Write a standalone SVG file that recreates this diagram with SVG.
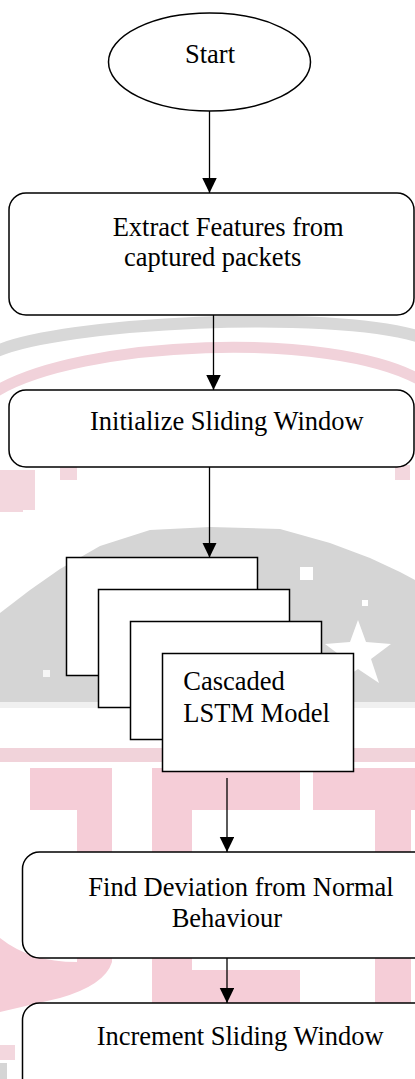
<svg xmlns="http://www.w3.org/2000/svg" width="415" height="1079" viewBox="0 0 415 1079">
<defs>
<style>
.node{fill:#fff;stroke:#000;stroke-width:1.5}
.lbl{font-family:"Liberation Serif","Times New Roman",serif;font-size:26.5px;fill:#000}
.conn{stroke:#000;stroke-width:1.3;fill:none}
.wg{fill:#d5d5d5}
.wp{fill:#f5cdd7}
</style>
<marker id="ah" markerWidth="15" markerHeight="15" refX="15" refY="7.25" orient="auto" markerUnits="userSpaceOnUse">
<path d="M0,0 L15,7.25 L0,14.5 z" fill="#000"/>
</marker>
</defs>
<rect width="415" height="1079" fill="#fff"/>
<g id="watermark">
<path d="M-5 352 C60 322 330 309 420 337" stroke="#d8d8d8" stroke-width="12" fill="none"/>
<path d="M-5 392 C80 340 330 330 420 380" stroke="#f1d2da" stroke-width="11" fill="none"/>
<rect x="0" y="470" width="35" height="40" fill="#f3d7de"/>
<rect x="60" y="467" width="17" height="13" fill="#f3d7de"/>
<rect x="395" y="465" width="15" height="15" fill="#f3d7de"/>
<rect x="0" y="500" width="23" height="12" fill="#f3d7de"/>
<path class="wg" d="M0 613 L30 590 L60 569 L100 546 L150 530 L210 527 L280 529 L330 543 L370 558 L400 572 L415 580 L415 702 L0 702 Z"/>
<rect x="0" y="702" width="415" height="6" fill="#f0f0f0"/>
<polygon points="358,620 366,642 391,644 371,659 379,683 358,669 337,683 345,659 325,644 350,642" fill="#fff"/>
<rect x="300" y="567" width="13" height="13" fill="#fff"/>
<rect x="362" y="600" width="6" height="6" fill="#fff"/>
<rect x="43" y="670" width="7" height="7" fill="#f6f6f6"/>
<rect x="0" y="748" width="415" height="14" fill="#f1d3da"/>
<path class="wp" d="M30 768 H112 V962 Q105 985 60 998 L0 1012 V938 Q30 962 77 962 V810 H30 Z"/>
<path class="wp" d="M152 768 H300 V810 H192 V970 H300 V1003 H152 Z"/>
<path class="wp" d="M313 768 H415 V810 H411 V1003 H375 V810 H313 Z"/>
<rect x="0" y="1045" width="15" height="15" fill="#f3d7de"/>
<rect x="0" y="1063" width="7" height="16" fill="#d5d5d5"/>
</g>
<g id="connectors">
<line class="conn" x1="209.5" y1="111" x2="209.5" y2="193" marker-end="url(#ah)"/>
<line class="conn" x1="213.5" y1="315" x2="213.5" y2="390" marker-end="url(#ah)"/>
<line class="conn" x1="209.5" y1="467" x2="209.5" y2="557.5" marker-end="url(#ah)"/>
<line class="conn" x1="227" y1="778" x2="227" y2="852" marker-end="url(#ah)"/>
<line class="conn" x1="227" y1="958" x2="227" y2="1003" marker-end="url(#ah)"/>
</g>
<g id="start">
<ellipse class="node" cx="209.5" cy="62" rx="101" ry="49"/>
<text class="lbl" x="185" y="63">Start</text>
</g>
<g id="extract">
<rect class="node" x="9" y="193" width="405" height="122" rx="17"/>
<text class="lbl" x="112.7" y="235.5">Extract Features from</text>
<text class="lbl" x="124" y="265.5">captured packets</text>
</g>
<g id="initialize">
<rect class="node" x="9" y="390" width="405" height="77" rx="17"/>
<text class="lbl" x="90" y="430">Initialize Sliding Window</text>
</g>
<g id="lstm">
<rect class="node" x="66.5" y="557.5" width="191" height="118"/>
<rect class="node" x="98.5" y="589.5" width="191" height="118"/>
<rect class="node" x="130.5" y="621.5" width="191" height="118"/>
<rect class="node" x="162.5" y="653.5" width="191" height="118"/>
<text class="lbl" x="183.3" y="690">Cascaded</text>
<text class="lbl" x="183.3" y="721.5">LSTM Model</text>
</g>
<g id="deviation">
<rect class="node" x="22.5" y="852" width="410" height="106" rx="17"/>
<text class="lbl" x="88.3" y="895.5">Find Deviation from Normal</text>
<text class="lbl" x="171.7" y="926.5">Behaviour</text>
</g>
<g id="increment">
<rect class="node" x="22.5" y="1003" width="410" height="100" rx="17"/>
<text class="lbl" x="96.7" y="1045">Increment Sliding Window</text>
</g>
</svg>
